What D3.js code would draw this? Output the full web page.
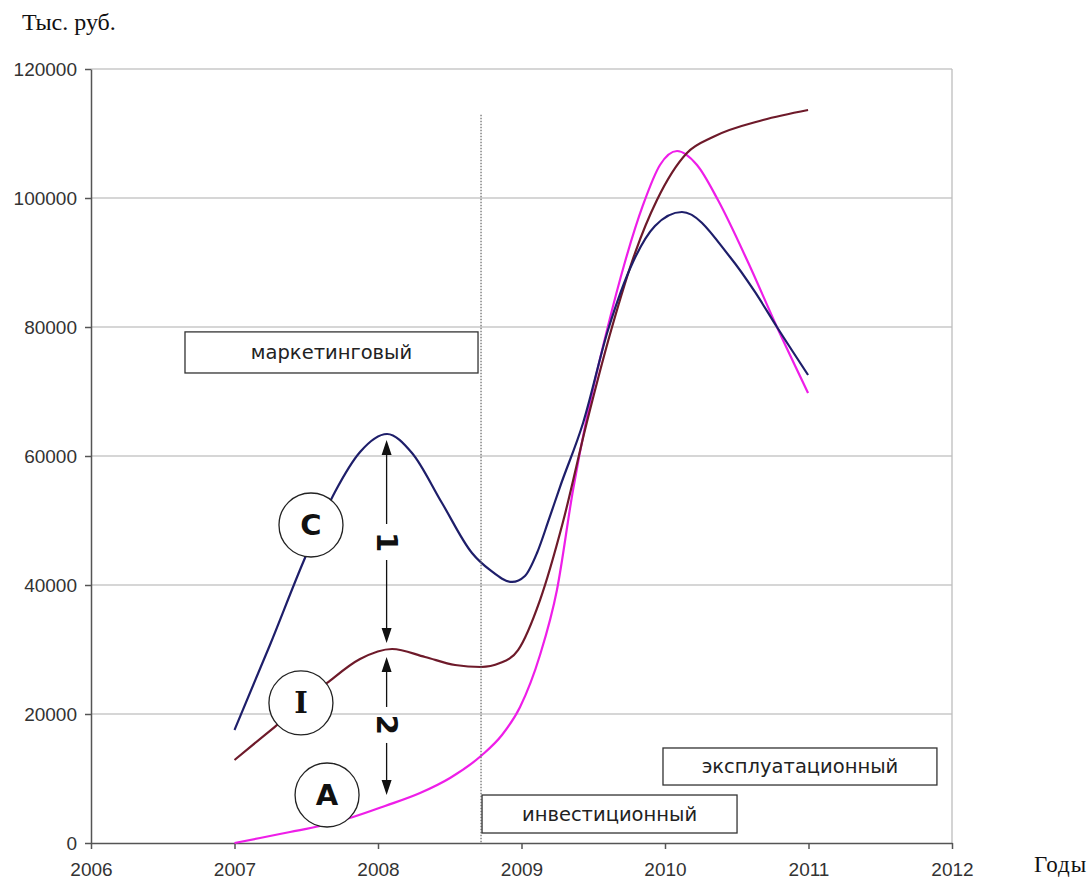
<!DOCTYPE html>
<html><head><meta charset="utf-8">
<script src="https://cdn.jsdelivr.net/npm/d3@7"></script>
<style>body{margin:0;background:#fff} svg{display:block}</style>
</head><body>
<script>
// ---- data ----
const xTicks = [2006, 2007, 2008, 2009, 2010, 2011, 2012];
const yTicks = [0, 20000, 40000, 60000, 80000, 100000, 120000];
const seriesNames = ["C", "I", "A"];

const cYears  = [2007.000, 2007.247, 2007.491, 2007.700, 2007.875, 2008.063, 2008.237, 2008.446, 2008.655, 2008.780, 2008.934, 2009.024, 2009.108, 2009.185, 2009.268, 2009.429, 2009.603, 2009.777, 2009.930, 2010.118, 2010.453, 2010.627, 2010.780, 2010.997];
const cValues = [17520, 30700, 44190, 54420, 60620, 63410, 60470, 52710, 44960, 42330, 40470, 41400, 44960, 49770, 55190, 65120, 79540, 90080, 95660, 97830, 90850, 85430, 80000, 72560];

const iYears  = [2007.000, 2007.279, 2007.645, 2007.875, 2008.098, 2008.328, 2008.537, 2008.718, 2008.850, 2008.976, 2009.129, 2009.289, 2009.456, 2009.631, 2009.791, 2009.944, 2010.153, 2010.334, 2010.683, 2010.997];
const iValues = [12870, 17980, 24810, 28530, 30080, 28840, 27600, 27290, 27900, 29920, 37670, 49770, 65270, 80000, 91470, 99690, 106980, 109460, 112090, 113640];

const aYears  = [2007.000, 2007.178, 2007.387, 2007.596, 2007.826, 2008.049, 2008.293, 2008.502, 2008.725, 2008.864, 2008.990, 2009.129, 2009.247, 2009.359, 2009.456, 2009.596, 2009.721, 2009.847, 2009.965, 2010.084, 2010.223, 2010.369, 2010.578, 2010.780, 2010.997];
const aValues = [0, 780, 1710, 2640, 4030, 5740, 7750, 10080, 13640, 16740, 21090, 29150, 39230, 54730, 66050, 79540, 90080, 98920, 105120, 107290, 105120, 99690, 90080, 80000, 69770];

const phaseLabels = ["маркетинговый", "инвестиционный", "эксплуатационный"];
const arrowLabels = ["1", "2"];
const yAxisTitle = "Тыс. руб.";
const xAxisTitle = "Годы";

// ---- chart ----
const W = 1092, H = 881;
const svg = d3.select("body").append("svg").attr("width", W).attr("height", H);
const x = d3.scaleLinear().domain([2006, 2012]).range([91, 952]);
const y = d3.scaleLinear().domain([0, 120000]).range([843, 69]);

// gridlines
svg.append("g").selectAll("line").data(yTicks.filter(d => d > 0)).join("line")
  .attr("x1", x(2006)).attr("x2", x(2012))
  .attr("y1", d => y(d)).attr("y2", d => y(d))
  .attr("stroke", "#c8c8c8").attr("stroke-width", 1.3);
// right border
svg.append("line").attr("x1", x(2012)).attr("x2", x(2012)).attr("y1", y(0)).attr("y2", y(120000))
  .attr("stroke", "#bdbdbd").attr("stroke-width", 1.3);

// axes
const yAxis = svg.append("g").attr("transform", `translate(${x(2006)},0)`)
  .call(d3.axisLeft(y).tickValues(yTicks).tickFormat(d3.format("d")).tickSize(6).tickSizeOuter(0).tickPadding(8));
const xAxis = svg.append("g").attr("transform", `translate(0,${y(0)})`)
  .call(d3.axisBottom(x).tickValues(xTicks).tickFormat(d3.format("d")).tickSize(6).tickSizeOuter(0).tickPadding(14));
[yAxis, xAxis].forEach(g => {
  g.select(".domain").attr("stroke", "#555").attr("stroke-width", 1.5);
  g.selectAll(".tick line").attr("stroke", "#555").attr("stroke-width", 1.5);
  g.selectAll(".tick text").attr("fill", "#333").style("font-family", "'Liberation Sans', Arial, sans-serif").style("font-size", "19px");
});

// series
const line = d3.line().x(d => x(d[0])).y(d => y(d[1])).curve(d3.curveMonotoneX);
const series = [
  { name: seriesNames[2], years: aYears, values: aValues, color: "#ee1ee8" },
  { name: seriesNames[1], years: iYears, values: iValues, color: "#6e1a2a" },
  { name: seriesNames[0], years: cYears, values: cValues, color: "#1e1e6a" }
];
svg.append("g").selectAll("path").data(series).join("path")
  .attr("d", s => line(s.years.map((yr, i) => [yr, s.values[i]])))
  .attr("fill", "none").attr("stroke", s => s.color).attr("stroke-width", 2.2);

// phase boundary (dotted)
const boundary = 2008.718;
svg.append("line").attr("x1", x(boundary)).attr("x2", x(boundary))
  .attr("y1", y(112900)).attr("y2", y(0))
  .attr("stroke", "#666").attr("stroke-width", 1.2).attr("stroke-dasharray", "1.5,1.5");

// phase boxes
const boxFont = "'DejaVu Sans', Verdana, sans-serif";
const boxes = [
  { label: phaseLabels[0], x0: 2006.655, x1: 2008.697, v0: 79240, v1: 72870 },
  { label: phaseLabels[1], x0: 2008.725, x1: 2010.502, v0: 7440, v1: 1550 },
  { label: phaseLabels[2], x0: 2009.986, x1: 2011.895, v0: 14730, v1: 8990 }
];
const bg = svg.append("g").selectAll("g").data(boxes).join("g");
bg.append("rect")
  .attr("x", d => x(d.x0)).attr("y", d => y(d.v0))
  .attr("width", d => x(d.x1) - x(d.x0)).attr("height", d => y(d.v1) - y(d.v0))
  .attr("fill", "#fff").attr("stroke", "#333").attr("stroke-width", 1.3);
bg.append("text")
  .attr("x", d => (x(d.x0) + x(d.x1)) / 2).attr("y", d => (y(d.v0) + y(d.v1)) / 2)
  .attr("text-anchor", "middle").attr("dominant-baseline", "central")
  .style("font-family", boxFont).style("font-size", "19.5px").attr("fill", "#222")
  .text(d => d.label);

// arrows with labels
const arrows = [
  { label: arrowLabels[0], yr: 2008.06, top: 62480, bottom: 31010, mid: 46670 },
  { label: arrowLabels[1], yr: 2008.06, top: 28840, bottom: 7440, mid: 18300 }
];
const ag = svg.append("g").selectAll("g").data(arrows).join("g");
ag.each(function (d) {
  const g = d3.select(this);
  const px = x(d.yr), t = y(d.top), b = y(d.bottom), m = y(d.mid);
  const gap = 18, hl = 15, hw = 5;
  g.append("line").attr("x1", px).attr("x2", px).attr("y1", t + hl).attr("y2", m - gap).attr("stroke", "#111").attr("stroke-width", 1.3);
  g.append("line").attr("x1", px).attr("x2", px).attr("y1", m + gap).attr("y2", b - hl).attr("stroke", "#111").attr("stroke-width", 1.3);
  g.append("path").attr("d", `M${px},${t} L${px - hw},${t + hl} L${px + hw},${t + hl} Z`).attr("fill", "#111");
  g.append("path").attr("d", `M${px},${b} L${px - hw},${b - hl} L${px + hw},${b - hl} Z`).attr("fill", "#111");
  g.append("text").attr("transform", `translate(${px},${m}) rotate(90)`)
    .attr("text-anchor", "middle").attr("dominant-baseline", "central")
    .style("font-family", "'DejaVu Sans', sans-serif").style("font-weight", "bold").style("font-size", "29px")
    .attr("fill", "#111").text(d.label);
});

// series label circles
const circles = [
  { label: seriesNames[0], yr: 2007.533, v: 49300, font: "'DejaVu Sans', sans-serif" },
  { label: seriesNames[1], yr: 2007.463, v: 21710, font: "'DejaVu Serif', serif" },
  { label: seriesNames[2], yr: 2007.645, v: 7440, font: "'DejaVu Sans', sans-serif" }
];
const cg = svg.append("g").selectAll("g").data(circles).join("g")
  .attr("transform", d => `translate(${x(d.yr)},${y(d.v)})`);
cg.append("circle").attr("r", 32).attr("fill", "#fff").attr("stroke", "#222").attr("stroke-width", 1.3);
cg.append("text").attr("text-anchor", "middle").attr("dominant-baseline", "central")
  .style("font-family", d => d.font).style("font-weight", "bold").style("font-size", "29px")
  .attr("fill", "#111").text(d => d.label);

// axis titles
svg.append("text").attr("x", 22).attr("y", 30)
  .style("font-family", "'Liberation Serif', 'Times New Roman', serif").style("font-size", "24px")
  .attr("fill", "#111").text(yAxisTitle);
svg.append("text").attr("x", 1034).attr("y", 872)
  .style("font-family", "'Liberation Serif', 'Times New Roman', serif").style("font-size", "23px")
  .style("letter-spacing", "1px").attr("fill", "#111").text(xAxisTitle);
</script>
</body></html>
